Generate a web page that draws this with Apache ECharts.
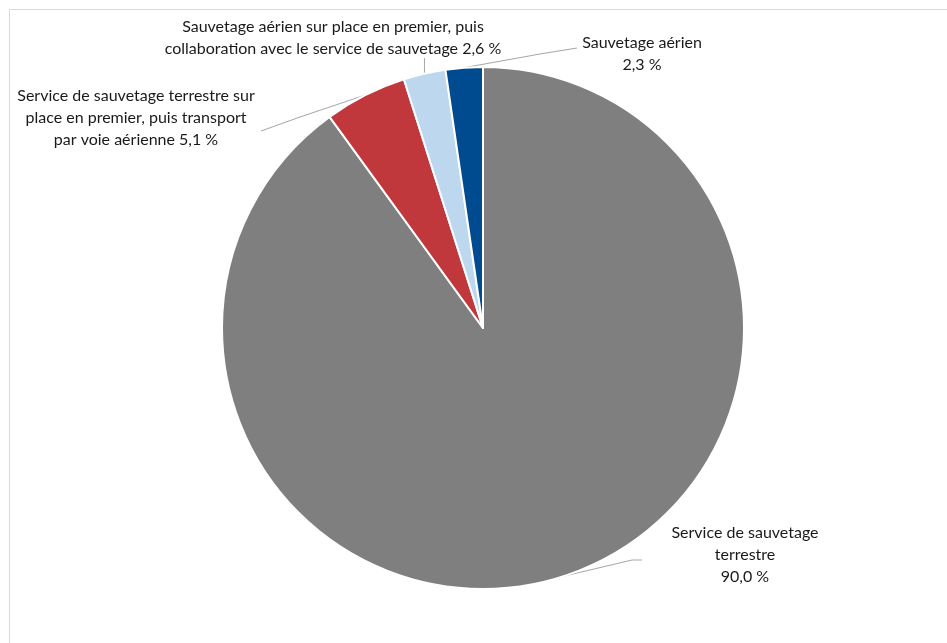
<!DOCTYPE html>
<html>
<head>
<meta charset="utf-8">
<script src="https://cdn.jsdelivr.net/npm/echarts@6/dist/echarts.min.js"></script>
<style>
  html, body { margin: 0; padding: 0; background: #fff; }
  #chart { width: 947px; height: 643px; }
</style>
</head>
<body>
<div id="chart"></div>
<script>
// Rescue types and their shares (percent)
const categories = [
  'Service de sauvetage\nterrestre',
  'Service de sauvetage terrestre sur\nplace en premier, puis transport\npar voie aérienne',
  'Sauvetage aérien sur place en premier, puis\ncollaboration avec le service de sauvetage',
  'Sauvetage aérien'
];
const shares = [90.0, 5.1, 2.6, 2.3];
const valueSeparator = ['\n', ' ', ' ', '\n'];
const colors = ['#7f7f7f', '#c0383c', '#bdd7ee', '#004a8f'];

// Label anchor (block centre) and leader-line bend/end points
const labelAnchors = [[745, 555], [136, 118], [333, 38], [642, 54]];
const leaderEnds = [
  [[632, 560], [642, 560]],
  [[300, 117], [261, 131]],
  [null, 58],
  [[540, 54], [577, 48]]
];

function fmt(v) {
  return v.toFixed(1).replace('.', ',') + ' %';
}

const chart = echarts.init(document.getElementById('chart'), null, { renderer: 'canvas' });

chart.setOption({
  backgroundColor: '#ffffff',
  animation: false,
  graphic: [{
    type: 'rect',
    shape: { x: 9.5, y: 9.5, width: 960, height: 720 },
    style: { fill: 'none', stroke: '#d9d9d9', lineWidth: 1 },
    silent: true
  }],
  series: [{
    type: 'pie',
    center: [483, 328],
    radius: 261,
    startAngle: 90,
    clockwise: true,
    avoidLabelOverlap: false,
    itemStyle: { borderColor: '#ffffff', borderWidth: 2 },
    label: {
      show: true,
      position: 'outside',
      color: '#1a1a1a',
      fontFamily: 'Lato, "Liberation Sans", sans-serif',
      fontSize: 16,
      lineHeight: 22,
      align: 'center',
      formatter: p => categories[p.dataIndex] + valueSeparator[p.dataIndex] + fmt(shares[p.dataIndex])
    },
    labelLine: {
      show: true,
      length: 10,
      length2: 10,
      lineStyle: { color: '#a6a6a6', width: 1 }
    },
    labelLayout: function (params) {
      const i = params.dataIndex;
      const a = labelAnchors[i];
      const start = params.labelLinePoints ? params.labelLinePoints[0] : [a[0], a[1]];
      let pts;
      if (i === 2) {
        // short vertical leader straight up from the slice edge
        pts = [start, [start[0], (start[1] + leaderEnds[2][1]) / 2], [start[0], leaderEnds[2][1]]];
      } else {
        pts = [start, leaderEnds[i][0], leaderEnds[i][1]];
      }
      return {
        x: a[0],
        y: a[1],
        align: 'center',
        verticalAlign: 'middle',
        labelLinePoints: pts
      };
    },
    data: categories.map((name, i) => ({
      name: name,
      value: shares[i],
      itemStyle: { color: colors[i] }
    }))
  }]
});
</script>
</body>
</html>
